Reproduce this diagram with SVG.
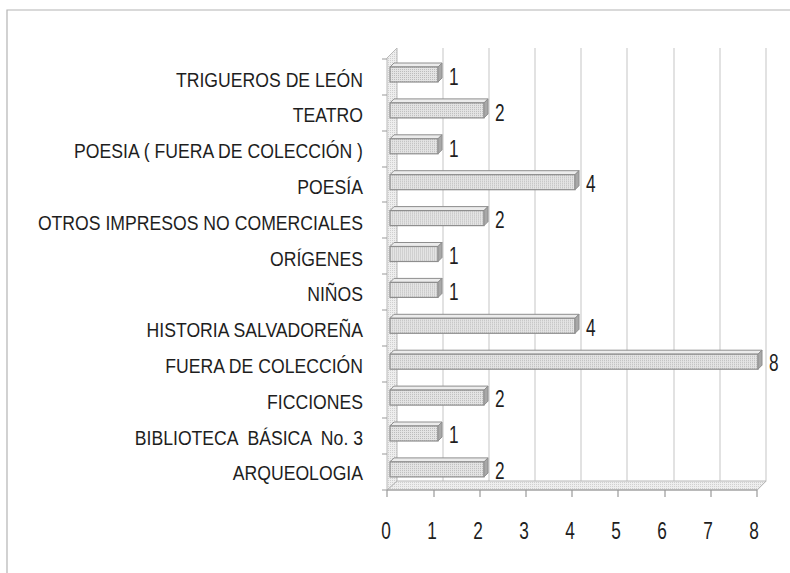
<svg xmlns="http://www.w3.org/2000/svg" width="790" height="573" viewBox="0 0 790 573">
<defs>
<pattern id="dots" width="2" height="2" patternUnits="userSpaceOnUse">
<rect width="2" height="2" fill="#e4e4e4"/>
<rect width="1" height="1" fill="#bcbcbc"/>
</pattern>
<pattern id="dotsLight" width="2" height="2" patternUnits="userSpaceOnUse">
<rect width="2" height="2" fill="#eeeeee"/>
<rect width="1" height="1" fill="#cfcfcf"/>
</pattern>
<style>
.frame{fill:none;stroke:#b4b4b4;stroke-width:1.2}
.grid{fill:none;stroke:#cfcfcf;stroke-width:1.2}
.wall{fill:url(#dotsLight);stroke:#b8b8b8;stroke-width:1}
.floor{fill:url(#dotsLight);stroke:#b8b8b8;stroke-width:1}
.tick{stroke:#9a9a9a;stroke-width:1.2}
.front{fill:url(#dots);stroke:#8e8e8e;stroke-width:1.2}
.top{fill:#ececec;stroke:#8e8e8e;stroke-width:1}
.side{fill:#a8a8a8;stroke:#8e8e8e;stroke-width:1}
.cat{font-family:"Liberation Sans",Arial,sans-serif;font-size:21px;fill:#1e1e1e;text-anchor:end}
.val{font-family:"Liberation Sans",Arial,sans-serif;font-size:23px;fill:#1e1e1e;text-anchor:start}
.axl{font-family:"Liberation Sans",Arial,sans-serif;font-size:23px;fill:#1e1e1e;text-anchor:middle}
</style>
</defs>
<rect width="790" height="573" fill="#ffffff"/>
<path class="frame" d="M7,573 V10 H790"/>

<g id="plot">
<g id="gridlines">
<path class="grid" d="M443,48 V481 L434,490 M489,48 V481 L480,490 M535,48 V481 L526,490 M581,48 V481 L572,490 M627,48 V481 L618,490 M674,48 V481 L665,490 M720,48 V481 L711,490 M766,48 V481 L757,490"/>
</g>
<polygon id="floor" class="floor" points="397,481 766,481 757,490 387,490"/>
<polygon id="wall" class="wall" points="387,58 397,48 397,481 387,490"/>
<g id="ticks">
<path class="tick" d="M382,59 H387 M382,95 H387 M382,131 H387 M382,167 H387 M382,202 H387 M382,238 H387 M382,274 H387 M382,310 H387 M382,346 H387 M382,382 H387 M382,418 H387 M382,454 H387 M382,490 H387"/>
<path class="tick" d="M387,490 H757 M387,490 V497 M434,490 V497 M480,490 V497 M526,490 V497 M572,490 V497 M618,490 V497 M665,490 V497 M711,490 V497 M757,490 V497"/>
</g>
</g>

<g id="axis-labels">
<text class="axl" transform="translate(386 539) scale(0.75 1)">0</text>
<text class="axl" transform="translate(432 539) scale(0.75 1)">1</text>
<text class="axl" transform="translate(478 539) scale(0.75 1)">2</text>
<text class="axl" transform="translate(524 539) scale(0.75 1)">3</text>
<text class="axl" transform="translate(570 539) scale(0.75 1)">4</text>
<text class="axl" transform="translate(616 539) scale(0.75 1)">5</text>
<text class="axl" transform="translate(662 539) scale(0.75 1)">6</text>
<text class="axl" transform="translate(708 539) scale(0.75 1)">7</text>
<text class="axl" transform="translate(754 539) scale(0.75 1)">8</text>
</g>

<g id="cat-trigueros">
<text class="cat" transform="translate(363 86.5) scale(0.84 1)">TRIGUEROS DE LEÓN</text>
<g transform="translate(0 63)"><polygon class="top" points="390,4 394,0 442,0 438,4"/><rect class="front" x="390" y="4" width="48" height="15"/><polygon class="side" points="438,4 442,0 442,15 438,19"/></g>
<text class="val" transform="translate(449 85) scale(0.75 1)">1</text>
</g>

<g id="cat-teatro">
<text class="cat" transform="translate(363 122.3) scale(0.84 1)">TEATRO</text>
<g transform="translate(0 98.9)"><polygon class="top" points="390,4 394,0 488,0 484,4"/><rect class="front" x="390" y="4" width="94" height="15"/><polygon class="side" points="484,4 488,0 488,15 484,19"/></g>
<text class="val" transform="translate(495 120.8) scale(0.75 1)">2</text>
</g>

<g id="cat-poesia-fuera">
<text class="cat" transform="translate(363 158.1) scale(0.84 1)">POESIA ( FUERA DE COLECCIÓN )</text>
<g transform="translate(0 134.8)"><polygon class="top" points="390,4 394,0 442,0 438,4"/><rect class="front" x="390" y="4" width="48" height="15"/><polygon class="side" points="438,4 442,0 442,15 438,19"/></g>
<text class="val" transform="translate(449 156.6) scale(0.75 1)">1</text>
</g>

<g id="cat-poesia">
<text class="cat" transform="translate(363 193.9) scale(0.84 1)">POESÍA</text>
<g transform="translate(0 170.7)"><polygon class="top" points="390,4 394,0 579,0 575,4"/><rect class="front" x="390" y="4" width="185" height="15"/><polygon class="side" points="575,4 579,0 579,15 575,19"/></g>
<text class="val" transform="translate(586 192.4) scale(0.75 1)">4</text>
</g>

<g id="cat-otros">
<text class="cat" transform="translate(363 229.7) scale(0.84 1)">OTROS IMPRESOS NO COMERCIALES</text>
<g transform="translate(0 206.6)"><polygon class="top" points="390,4 394,0 488,0 484,4"/><rect class="front" x="390" y="4" width="94" height="15"/><polygon class="side" points="484,4 488,0 488,15 484,19"/></g>
<text class="val" transform="translate(495 228.2) scale(0.75 1)">2</text>
</g>

<g id="cat-origenes">
<text class="cat" transform="translate(363 265.5) scale(0.84 1)">ORÍGENES</text>
<g transform="translate(0 242.5)"><polygon class="top" points="390,4 394,0 442,0 438,4"/><rect class="front" x="390" y="4" width="48" height="15"/><polygon class="side" points="438,4 442,0 442,15 438,19"/></g>
<text class="val" transform="translate(449 264) scale(0.75 1)">1</text>
</g>

<g id="cat-ninos">
<text class="cat" transform="translate(363 301.3) scale(0.84 1)">NIÑOS</text>
<g transform="translate(0 278.4)"><polygon class="top" points="390,4 394,0 442,0 438,4"/><rect class="front" x="390" y="4" width="48" height="15"/><polygon class="side" points="438,4 442,0 442,15 438,19"/></g>
<text class="val" transform="translate(449 299.8) scale(0.75 1)">1</text>
</g>

<g id="cat-historia">
<text class="cat" transform="translate(363 337.1) scale(0.84 1)">HISTORIA SALVADOREÑA</text>
<g transform="translate(0 314.3)"><polygon class="top" points="390,4 394,0 579,0 575,4"/><rect class="front" x="390" y="4" width="185" height="15"/><polygon class="side" points="575,4 579,0 579,15 575,19"/></g>
<text class="val" transform="translate(586 335.6) scale(0.75 1)">4</text>
</g>

<g id="cat-fuera">
<text class="cat" transform="translate(363 372.9) scale(0.84 1)">FUERA DE COLECCIÓN</text>
<g transform="translate(0 350.2)"><polygon class="top" points="390,4 394,0 762,0 758,4"/><rect class="front" x="390" y="4" width="368" height="15"/><polygon class="side" points="758,4 762,0 762,15 758,19"/></g>
<text class="val" transform="translate(769 371.4) scale(0.75 1)">8</text>
</g>

<g id="cat-ficciones">
<text class="cat" transform="translate(363 408.7) scale(0.84 1)">FICCIONES</text>
<g transform="translate(0 386.1)"><polygon class="top" points="390,4 394,0 488,0 484,4"/><rect class="front" x="390" y="4" width="94" height="15"/><polygon class="side" points="484,4 488,0 488,15 484,19"/></g>
<text class="val" transform="translate(495 407.2) scale(0.75 1)">2</text>
</g>

<g id="cat-biblioteca">
<text class="cat" xml:space="preserve" transform="translate(363 444.5) scale(0.84 1)">BIBLIOTECA  BÁSICA  No. 3</text>
<g transform="translate(0 422)"><polygon class="top" points="390,4 394,0 442,0 438,4"/><rect class="front" x="390" y="4" width="48" height="15"/><polygon class="side" points="438,4 442,0 442,15 438,19"/></g>
<text class="val" transform="translate(449 443) scale(0.75 1)">1</text>
</g>

<g id="cat-arqueologia">
<text class="cat" transform="translate(363 480.3) scale(0.84 1)">ARQUEOLOGIA</text>
<g transform="translate(0 457.9)"><polygon class="top" points="390,4 394,0 488,0 484,4"/><rect class="front" x="390" y="4" width="94" height="15"/><polygon class="side" points="484,4 488,0 488,15 484,19"/></g>
<text class="val" transform="translate(495 478.8) scale(0.75 1)">2</text>
</g>
</svg>
